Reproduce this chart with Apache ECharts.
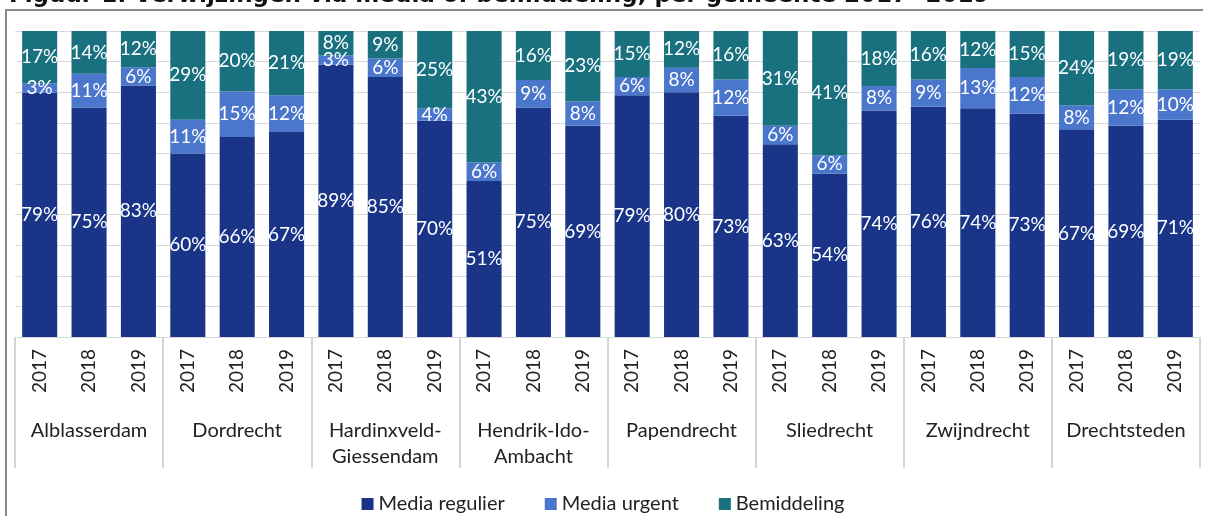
<!DOCTYPE html>
<html>
<head>
<meta charset="utf-8">
<script src="https://cdn.jsdelivr.net/npm/echarts@6/dist/echarts.min.js"></script>
<style>
  html, body { margin: 0; padding: 0; background: #fff; }
  #frame { position: absolute; left: 5px; top: 9px; width: 1198px; height: 520px;
           border-left: 2px solid #8a8a8a; border-top: 2px solid #8a8a8a; box-sizing: border-box; }
  #chart { width: 1206px; height: 516px; position: absolute; left: 0; top: 0; }
</style>
</head>
<body>
<div id="frame"></div>
<div id="chart"></div>
<script>
// gemeenten en jaren
let groups = ['Alblasserdam', 'Dordrecht', 'Hardinxveld-\nGiessendam', 'Hendrik-Ido-\nAmbacht',
              'Papendrecht', 'Sliedrecht', 'Zwijndrecht', 'Drechtsteden'];
let years = ['2017', '2018', '2019'];

// percentages per bar, volgorde: groep x jaar
let regulier    = [79, 75, 83, 60, 66, 67, 89, 85, 70, 51, 75, 69, 79, 80, 73, 63, 54, 74, 76, 74, 73, 67, 69, 71];
let urgent      = [3, 11, 6, 11, 15, 12, 3, 6, 4, 6, 9, 8, 6, 8, 12, 6, 6, 8, 9, 13, 12, 8, 12, 10];
let bemiddeling = [17, 14, 12, 29, 20, 21, 8, 9, 25, 43, 16, 23, 15, 12, 16, 31, 41, 18, 16, 12, 15, 24, 19, 19];

let cats = [];
for (let g = 0; g < groups.length; g++) {
    for (let y = 0; y < years.length; y++) {
        cats.push(years[y]);
    }
}

// 100% gestapeld, zoals in Excel
function share(arr) {
    let out = [];
    for (let i = 0; i < arr.length; i++) {
        let tot = regulier[i] + urgent[i] + bemiddeling[i];
        out.push(arr[i] / tot * 100);
    }
    return out;
}

let labelFont = 'Lato, "Open Sans", sans-serif';

function makeSeries(name, raw, color) {
    return {
        name: name,
        type: 'bar',
        stack: 'tot',
        barWidth: '71%',
        data: share(raw),
        itemStyle: { color: color },
        label: {
            show: true,
            position: 'inside',
            color: '#fff',
            fontSize: 19,
            fontFamily: labelFont,
            formatter: function (p) { return raw[p.dataIndex] + '%'; }
        }
    };
}

let chart = echarts.init(document.getElementById('chart'));
let option = {
    animation: false,
    title: {
        text: 'Figuur 1: Verwijzingen via media of bemiddeling, per gemeente 2017- 2019',
        left: 4,
        top: -20,
        textStyle: { fontFamily: '"DejaVu Sans"', fontWeight: 'bold', fontSize: 23, color: '#111' }
    },
    legend: {
        bottom: -3,
        left: 'center',
        itemWidth: 12,
        itemHeight: 12,
        itemGap: 40,
        icon: 'rect',
        textStyle: { fontFamily: labelFont, fontSize: 20, color: '#222' },
        data: ['Media regulier', 'Media urgent', 'Bemiddeling']
    },
    grid: { left: 15, right: 6, top: 31, bottom: 179 },
    xAxis: [
        {
            type: 'category',
            data: cats,
            axisLine: { show: true, lineStyle: { color: '#d9d9d9' } },
            axisTick: { show: false },
            axisLabel: { rotate: 90, margin: 12, fontSize: 19, color: '#222', fontFamily: labelFont }
        },
        {
            type: 'category',
            position: 'bottom',
            data: groups,
            axisLine: { show: false },
            axisTick: { show: true, length: 131, interval: 0, lineStyle: { color: '#d4d4d4', width: 2 } },
            axisLabel: { margin: 81, fontSize: 20, lineHeight: 26, color: '#222', fontFamily: labelFont, interval: 0 }
        }
    ],
    yAxis: {
        type: 'value',
        min: 0,
        max: 100,
        interval: 10,
        axisLabel: { show: false },
        axisLine: { show: false },
        splitLine: { lineStyle: { color: '#d9d9d9' } }
    },
    series: [
        makeSeries('Media regulier', regulier, '#1a3588'),
        makeSeries('Media urgent', urgent, '#4a76cc'),
        makeSeries('Bemiddeling', bemiddeling, '#19717f')
    ]
};
chart.setOption(option);
</script>
</body>
</html>
